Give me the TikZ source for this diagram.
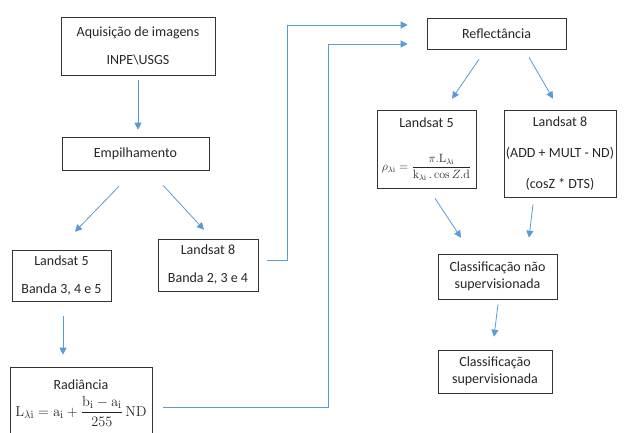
\documentclass[tikz,border=0pt]{standalone}
\usepackage{amsmath}
\usepackage[no-math]{fontspec}
\setmainfont{Carlito}
\usetikzlibrary{arrows.meta}

\begin{document}
\begin{tikzpicture}[x=1pt, y=-1pt,
    box/.style = {draw=black!80, line width=0.6pt, align=center, inner sep=0pt,
                  font=\fontsize{14}{17}\selectfont, text=black!85},
    arr/.style = {draw={rgb,255:red,91;green,155;blue,213}, line width=0.8pt,
                  -{Triangle[length=7pt,width=7pt]}}]
  \useasboundingbox (0,0) rectangle (625,433);

  % left column
  \node[box, minimum width=154pt, minimum height=58pt] (aq) at (138,46)
       {Aquisição de imagens\\[11pt]INPE\textbackslash USGS};
  \node[box, minimum width=147pt, minimum height=33pt] (emp) at (135.5,153.5) {Empilhamento};
  \node[box, minimum width=99pt, minimum height=51pt] (lsa) at (61.5,275.5)
       {Landsat 5\\[11pt]Banda 3, 4 e 5};
  \node[box, minimum width=100pt, minimum height=52pt] (lsb) at (208,265)
       {Landsat 8\\[11pt]Banda 2, 3 e 4};
  \node[box, minimum width=142pt, minimum height=72pt] (rad) at (81,403)
       {Radiância\\[6pt]
        {\fontsize{15}{18}\selectfont
         $\mathrm{L}_{\lambda\mathrm{i}} = \mathrm{a}_\mathrm{i} + \dfrac{\mathrm{b}_\mathrm{i} - \mathrm{a}_\mathrm{i}}{255}\,\mathrm{ND}$}};

  % right column
  \node[box, minimum width=139pt, minimum height=31pt] (refl) at (496.5,33.5) {Reflectância};
  \node[box, minimum width=99pt, minimum height=78pt] (lsc) at (426.5,149)
       {Landsat 5\\[26pt]
        {\fontsize{12}{14}\selectfont
         $\rho_{\lambda\mathrm{i}} = \dfrac{\pi.\mathrm{L}_{\lambda\mathrm{i}}}{\mathrm{k}_{\lambda\mathrm{i}}\,.\cos Z.\mathrm{d}}$}};
  \node[box, minimum width=112pt, minimum height=87pt] (lsd) at (560,153.5)
       {Landsat 8\\[14pt](ADD + MULT - ND)\\[14pt](cosZ * DTS)};
  \node[box, minimum width=119pt, minimum height=45pt] (cn) at (497.5,276.5)
       {Classificação não\\supervisionada};
  \node[box, minimum width=114pt, minimum height=43pt] (cs) at (495,371.5)
       {Classificação\\supervisionada};

  \coordinate (bendA) at (287,25);
  \coordinate (bendB) at (328,44);

  % connectors
  \draw[arr] ([yshift=-5pt]aq.south) -- ([yshift=7pt]aq.south |- emp.north);
  \draw[arr] ([xshift=-16.5pt,yshift=-16pt]emp.south) -- ([xshift=13.5pt,yshift=18pt]lsa.north);
  \draw[arr] ([xshift=27.5pt,yshift=-15pt]emp.south) -- ([xshift=-4pt,yshift=9pt]lsb.north);
  \draw[arr] ([xshift=1.5pt,yshift=-15pt]lsa.south) -- ([xshift=1.5pt,yshift=12pt]lsa.south |- rad.north);
  \draw[arr] ([xshift=9pt,yshift=5pt]lsb.east) -| (bendA) -- ([xshift=-19pt,yshift=8.5pt]refl.west);
  \draw[arr] ([xshift=11pt,yshift=-4pt]rad.east) -| (bendB) -- ([xshift=-19pt,yshift=-10.5pt]refl.west);
  \draw[arr] ([xshift=-17.5pt,yshift=-10pt]refl.south) -- ([xshift=25.5pt,yshift=11pt]lsc.north);
  \draw[arr] ([xshift=32.5pt,yshift=-8pt]refl.south) -- ([xshift=-7pt,yshift=11pt]lsd.north);
  \draw[arr] ([xshift=8.5pt,yshift=-10pt]lsc.south) -- ([xshift=-36.5pt,yshift=16pt]cn.north);
  \draw[arr] ([xshift=-27pt,yshift=-7pt]lsd.south) -- ([xshift=31.5pt,yshift=16pt]cn.north);
  \draw[arr] ([xshift=0.5pt,yshift=-5pt]cn.south) -- ([xshift=-1pt,yshift=13pt]cs.north);
\end{tikzpicture}
\end{document}
